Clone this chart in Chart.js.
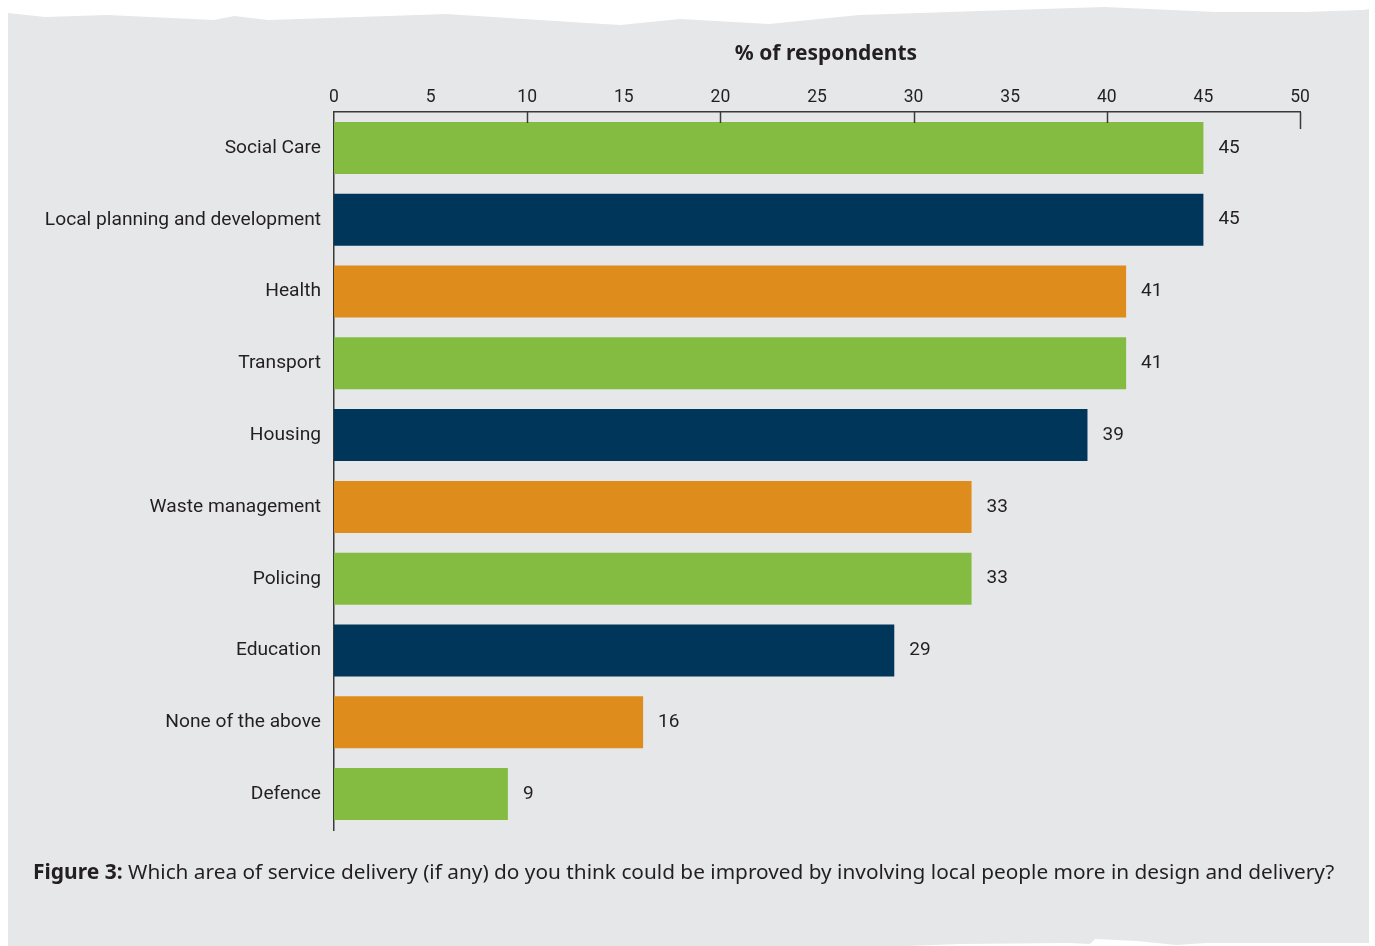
<!DOCTYPE html>
<html>
<head>
<meta charset="utf-8">
<script src="https://cdn.jsdelivr.net/npm/chart.js@4"></script>
<style>
  html, body { margin: 0; padding: 0; background: #ffffff; }
  #wrap { width: 1375px; height: 946px; }
</style>
</head>
<body>
<div id="wrap"><canvas id="bar_chart" width="1375" height="946"></canvas></div>
<script>
// service areas, top to bottom
const areas = ['Social Care', 'Local planning and development', 'Health', 'Transport', 'Housing',
  'Waste management', 'Policing', 'Education', 'None of the above', 'Defence'];
const pct_respondents = [45, 45, 41, 41, 39, 33, 33, 29, 16, 9];
const x_ticks = [0, 5, 10, 15, 20, 25, 30, 35, 40, 45, 50];

const GREEN = '#84bc41';
const NAVY = '#00365a';
const ORANGE = '#de8c1b';
const PANEL = '#e6e7e9';
const INK = '#231f20';
const FONT = "Roboto, 'Noto Sans', sans-serif";
const WIDE = "'Noto Sans', sans-serif";

const barColours = areas.map((a, i) => [GREEN, NAVY, ORANGE][i % 3]);

// torn paper outline of the grey panel
const topEdge = [[8, 13], [45, 17], [107, 15], [214, 20], [234, 16], [268, 20], [388, 16], [446, 14],
  [571, 22], [620, 25], [680, 19], [769, 24], [859, 15], [980, 11], [1104, 7], [1216, 12], [1305, 12],
  [1363, 10], [1369, 9]];
const bottomEdge = [[1369, 943], [1362, 943], [1267, 943], [1206, 943], [1176, 945], [1137, 941],
  [1095, 939], [1090, 944], [1068, 943], [960, 944], [908, 946], [8, 946]];

const panelPlugin = {
    id: 'panel',
    beforeDraw(chart) {
        const c = chart.ctx;
        c.save();
        c.fillStyle = '#ffffff';
        c.fillRect(0, 0, chart.width, chart.height);
        c.beginPath();
        topEdge.forEach((p, i) => i == 0 ? c.moveTo(p[0], p[1]) : c.lineTo(p[0], p[1]));
        bottomEdge.forEach(p => c.lineTo(p[0], p[1]));
        c.closePath();
        c.fillStyle = PANEL;
        c.fill();
        c.restore();
    }
};

// tick marks pointing down into the plot, value labels and the caption
const extrasPlugin = {
    id: 'extras',
    afterDatasetsDraw(chart) {
        const c = chart.ctx;
        const meta = chart.getDatasetMeta(0);
        c.save();
        c.font = '19px ' + FONT;
        c.fillStyle = INK;
        c.textBaseline = 'middle';
        c.textAlign = 'left';
        meta.data.forEach((bar, i) => {
            c.fillText(String(pct_respondents[i]), bar.x + 15, bar.y);
        });
        c.restore();
    },
    afterDraw(chart) {
        const c = chart.ctx;
        const xs = chart.scales.x;
        const top = chart.chartArea.top;
        c.save();
        c.strokeStyle = '#3a3a3a';
        c.lineWidth = 1.5;
        [10, 20, 30, 40, 50].forEach(v => {
            const px = Math.round(xs.getPixelForValue(v)) + 0.5;
            c.beginPath();
            c.moveTo(px, top);
            c.lineTo(px, top + (v == 50 ? 17 : 11));
            c.stroke();
        });
        // axis title, a touch right of centre
        c.fillStyle = INK;
        c.textBaseline = 'middle';
        c.textAlign = 'center';
        c.font = 'bold 21px ' + WIDE;
        c.fillText('% of respondents', (xs.left + xs.right) / 2 + 9, 54);
        // caption
        c.textAlign = 'left';
        const lead = 'Figure 3:';
        c.fillText(lead, 33, 873);
        const w = c.measureText(lead + ' ').width;
        c.font = '20.8px ' + WIDE;
        c.fillText('Which area of service delivery (if any) do you think could be improved by involving local people more in design and delivery?', 33 + w, 873);
        c.restore();
    }
};

const ctx = document.getElementById('bar_chart').getContext('2d');
const myChart = new Chart(ctx, {
    type: 'bar',
    data: {
        labels: areas,
        datasets: [{
            label: '% of respondents',
            data: pct_respondents,
            backgroundColor: barColours,
            borderWidth: 0,
            barPercentage: 0.8,
            categoryPercentage: 0.905,
        }]
    },
    options: {
        indexAxis: 'y',
        responsive: false,
        animation: false,
        layout: { padding: { left: 0, top: 0, right: 75, bottom: 116 } },
        plugins: {
            legend: { display: false },
            tooltip: { enabled: false }
        },
        scales: {
            x: {
                position: 'top',
                min: 0,
                max: 50,
                afterBuildTicks(scale) {
                    scale.ticks = x_ticks.map(v => ({ value: v }));
                },
                afterFit(scale) { scale.height = 112; },
                grid: { display: false, drawTicks: false },
                border: { display: true, color: '#3a3a3a', width: 1.5 },
                ticks: {
                    padding: 4,
                    color: INK,
                    font: { family: FONT, size: 17.5 },
                    maxRotation: 0
                }
            },
            y: {
                afterFit(scale) { scale.width = 334; },
                grid: { display: false, drawTicks: false },
                border: { display: true, color: '#3a3a3a', width: 1.5 },
                ticks: {
                    padding: 13,
                    color: INK,
                    font: { family: FONT, size: 19.2 }
                }
            }
        }
    },
    plugins: [panelPlugin, extrasPlugin]
});
</script>
</body>
</html>
